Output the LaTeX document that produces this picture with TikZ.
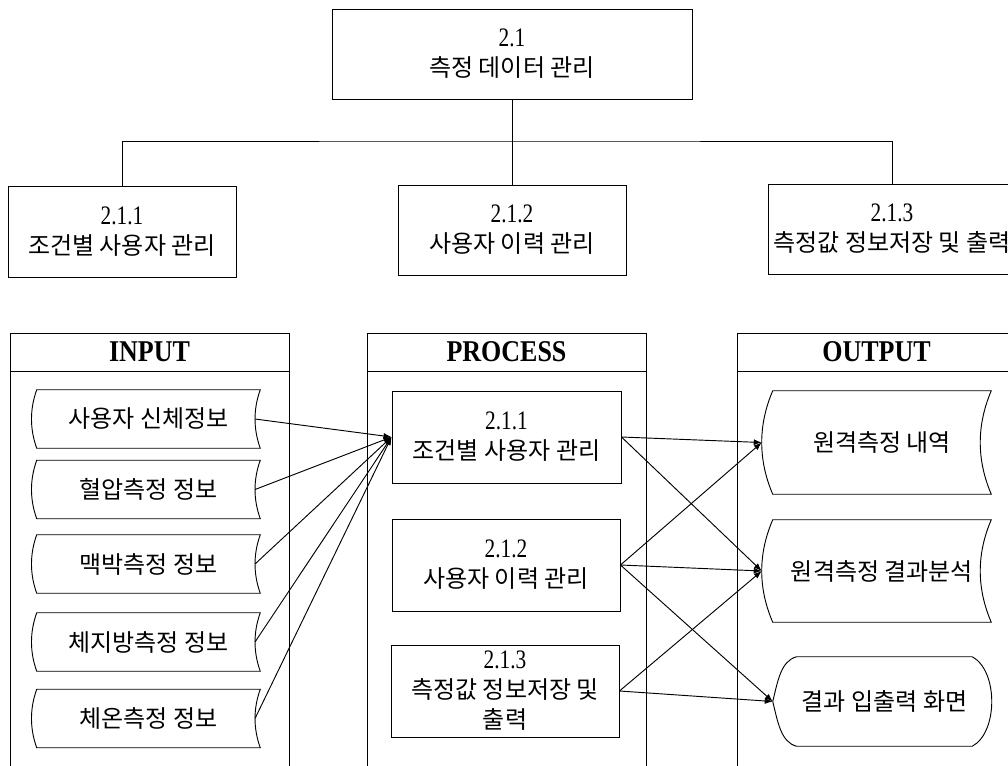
\documentclass[tikz,border=0pt]{standalone}
\usepackage{fontspec}
\usepackage{graphicx}
\setmainfont{Liberation Serif}
\newfontfamily\kr{Noto Sans CJK KR}
\usetikzlibrary{arrows.meta,calc}
% tall, narrow section numbers and headings
\newcommand\nbr[1]{\scalebox{1}[1.25]{\fontsize{16}{22.5}\selectfont #1}}
\newcommand\hdr[1]{\scalebox{1}[1.16]{\fontsize{19.5}{22.5}\selectfont\bfseries #1}}
% data-store outline: curved left side bulging out, right side bulging in
\newcommand\storedoutline[2]{%
  \draw[line] (#1.north west)
    .. controls ($(#1.north west)!.333!(#1.south west)+(-#2,0)$)
            and ($(#1.north west)!.667!(#1.south west)+(-#2,0)$) .. (#1.south west)
    -- (#1.south east)
    .. controls ($(#1.north east)!.667!(#1.south east)+(-#2,0)$)
            and ($(#1.north east)!.333!(#1.south east)+(-#2,0)$) .. (#1.north east)
    -- cycle;}

\begin{document}
\begin{tikzpicture}[x=0.75pt,y=-0.75pt,
  every node/.style={inner sep=0pt, align=center, font=\fontsize{18}{22.5}\selectfont},
  line/.style={line width=0.7pt, draw=black},
  box/.style={line, draw, rectangle},
  plain/.style={rectangle, draw=none},
  hdrbox/.style={box, minimum width=209.25pt, minimum height=28.5pt},
  panel/.style={box, minimum width=209.25pt, minimum height=315pt, anchor=north},
  arr/.style={line, -{Latex[length=6pt,width=4.5pt]}},
]
\useasboundingbox (0,0) rectangle (1008,765);
\clip (0,0) rectangle (1008,765);

% ---------- hierarchy ----------
\node[box, minimum width=270pt, minimum height=67.5pt] (t) at (512,54)
  {\nbr{2.1}\\\kr 측정 데이터 관리};
\node[box, minimum width=171pt, minimum height=68.25pt] (m1) at (122,231.5)
  {\nbr{2.1.1}\\\kr 조건별 사용자 관리};
\node[box, minimum width=171pt, minimum height=67.5pt] (m2) at (512,230)
  {\nbr{2.1.2}\\\kr 사용자 이력 관리};
\node[box, minimum width=186pt, minimum height=67.5pt] (m3) at (892,229)
  {\nbr{2.1.3}\\\kr 측정값 정보저장 및 출력};
\coordinate (bus) at (512,141);
\draw[line] (t.south) -- (m2.north);
\draw[line] (m1.north) |- (bus) -| (m3.north);

% ---------- panels ----------
\node[hdrbox] (hin) at (149.5,352) {\hdr{INPUT}};
\node[panel] (bin) at (hin.south) {};
\node[hdrbox] (hpr) at (506.5,352) {\hdr{PROCESS}};
\node[panel] (bpr) at (hpr.south) {};
\node[hdrbox] (hout) at (876.5,352) {\hdr{OUTPUT}};
\node[panel] (bout) at (hout.south) {};

% ---------- inputs ----------
\foreach \n/\y/\txt in {in1/419/사용자 신체정보, in2/489.5/혈압측정 정보,
    in3/564/맥박측정 정보, in4/642/체지방측정 정보, in5/718.5/체온측정 정보}{
  \node[plain, minimum width=167.25pt, minimum height=43.5pt] (\n) at (148.5,\y) {\kr\txt};
  \storedoutline{\n}{7}
  \coordinate (\n r) at ($(\n.east)+(-5.25,0)$);
}

% ---------- processes ----------
\node[box, minimum width=171.75pt, minimum height=69pt] (p1) at (506.5,437)
  {\nbr{2.1.1}\\\kr 조건별 사용자 관리};
\node[box, minimum width=171pt, minimum height=69pt] (p2) at (506,565)
  {\nbr{2.1.2}\\\kr 사용자 이력 관리};
\node[box, minimum width=171pt, minimum height=69pt] (p3) at (505,691)
  {\nbr{2.1.3}\\\kr 측정값 정보저장 및\\\kr 출력};

% ---------- outputs ----------
\node[plain, minimum width=163.5pt, minimum height=77.25pt] (o1) at (882,442.5) {\kr 원격측정 내역};
\storedoutline{o1}{14.7}
\coordinate (o1l) at ($(o1.west)+(-11,0)$);
\node[plain, minimum width=163.5pt, minimum height=76.5pt] (o2) at (882,571) {\kr 원격측정 결과분석};
\storedoutline{o2}{14.7}
\coordinate (o2l) at ($(o2.west)+(-11,0)$);
\node[plain, minimum width=131.25pt, minimum height=66.75pt] (o3) at (884.5,701.5) {\kr 결과 입출력 화면};
\coordinate (o3l) at ($(o3.west)+(-24,0)$);
\draw[line] (o3.north west) .. controls +(-16,4) and +(5,-20) .. (o3l)
  .. controls +(5,20) and +(-16,-4) .. (o3.south west) -- (o3.south east)
  .. controls +(26,-14) and +(26,14) .. (o3.north east) -- cycle;

% ---------- flows ----------
\foreach \n in {in1,in2,in3,in4,in5}{\draw[arr] (\n r) -- (p1.west);}
\draw[arr] (p1.east) -- (o1l);
\draw[arr] (p1.east) -- (o2l);
\draw[arr] (p2.east) -- (o1l);
\draw[arr] (p2.east) -- (o2l);
\draw[arr] (p2.east) -- (o3l);
\draw[arr] (p3.east) -- (o2l);
\draw[arr] (p3.east) -- (o3l);
\end{tikzpicture}
\end{document}
